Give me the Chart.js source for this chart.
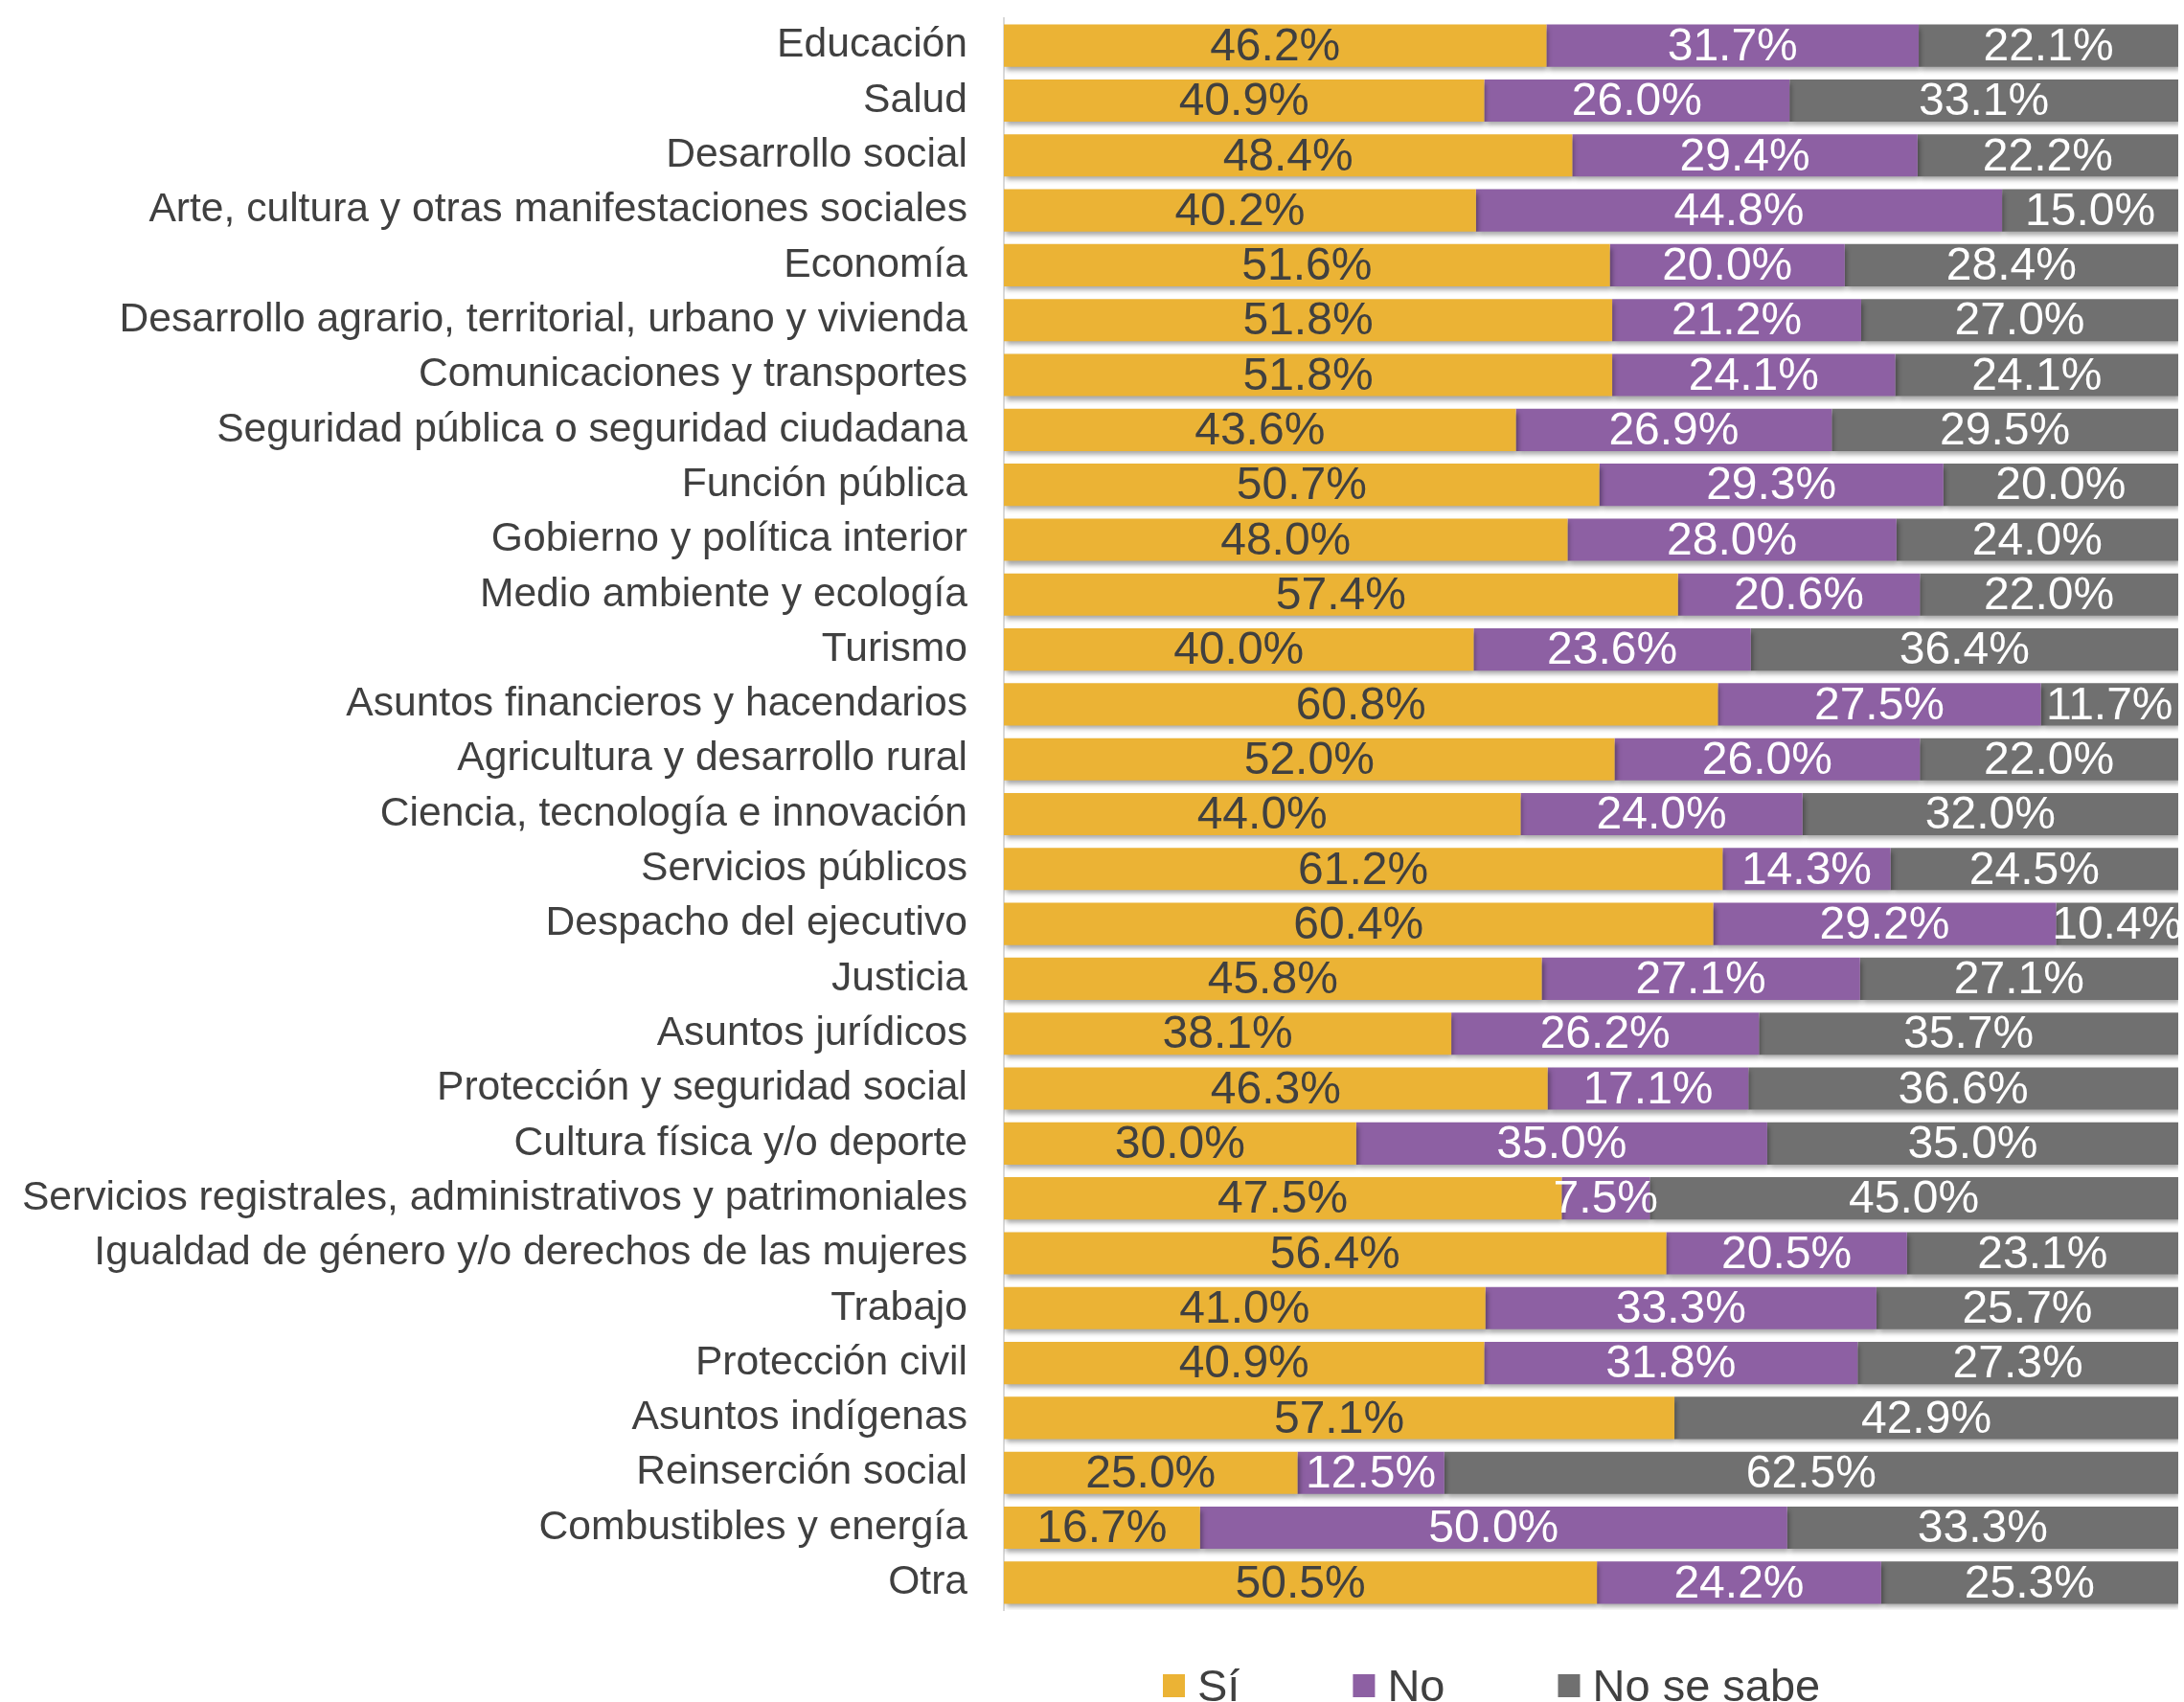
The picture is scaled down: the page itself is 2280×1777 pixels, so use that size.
<!DOCTYPE html>
<html>
<head>
<meta charset="utf-8">
<script src="https://cdn.jsdelivr.net/npm/chart.js@4.4.1/dist/chart.umd.min.js"></script>
<style>
  html, body { margin: 0; padding: 0; background: #ffffff; }
  #wrap { width: 2280px; height: 1777px; position: relative; }
</style>
</head>
<body>
<div id="wrap"><canvas id="temasChart"></canvas></div>
<script>
const categorias = [
    'Educación',
    'Salud',
    'Desarrollo social',
    'Arte, cultura y otras manifestaciones sociales',
    'Economía',
    'Desarrollo agrario, territorial, urbano y vivienda',
    'Comunicaciones y transportes',
    'Seguridad pública o seguridad ciudadana',
    'Función pública',
    'Gobierno y política interior',
    'Medio ambiente y ecología',
    'Turismo',
    'Asuntos financieros y hacendarios',
    'Agricultura y desarrollo rural',
    'Ciencia, tecnología e innovación',
    'Servicios públicos',
    'Despacho del ejecutivo',
    'Justicia',
    'Asuntos jurídicos',
    'Protección y seguridad social',
    'Cultura física y/o deporte',
    'Servicios registrales, administrativos y patrimoniales',
    'Igualdad de género y/o derechos de las mujeres',
    'Trabajo',
    'Protección civil',
    'Asuntos indígenas',
    'Reinserción social',
    'Combustibles y energía',
    'Otra'
];

const valoresSi = [46.2, 40.9, 48.4, 40.2, 51.6, 51.8, 51.8, 43.6, 50.7, 48.0, 57.4, 40.0, 60.8, 52.0, 44.0, 61.2, 60.4, 45.8, 38.1, 46.3, 30.0, 47.5, 56.4, 41.0, 40.9, 57.1, 25.0, 16.7, 50.5];
const valoresNo = [31.7, 26.0, 29.4, 44.8, 20.0, 21.2, 24.1, 26.9, 29.3, 28.0, 20.6, 23.6, 27.5, 26.0, 24.0, 14.3, 29.2, 27.1, 26.2, 17.1, 35.0, 7.5, 20.5, 33.3, 31.8, 0, 12.5, 50.0, 24.2];
const valoresNoSabe = [22.1, 33.1, 22.2, 15.0, 28.4, 27.0, 24.1, 29.5, 20.0, 24.0, 22.0, 36.4, 11.7, 22.0, 32.0, 24.5, 10.4, 27.1, 35.7, 36.6, 35.0, 45.0, 23.1, 25.7, 27.3, 42.9, 62.5, 33.3, 25.3];

const etiquetasSerie = ['Sí', 'No', 'No se sabe'];
const coloresSerie = ['#EBB335', '#8D60A3', '#707070'];
const coloresTexto = ['#404040', '#ffffff', '#ffffff'];

const FUENTE = "'Liberation Sans', Arial, sans-serif";

// sombra suave debajo de las barras
const sombraBarras = {
    id: 'sombraBarras',
    beforeDatasetsDraw(chart) {
        const ctx = chart.ctx;
        ctx.save();
        ctx.shadowColor = 'rgba(0, 0, 0, 0.35)';
        ctx.shadowBlur = 5;
        ctx.shadowOffsetX = 2;
        ctx.shadowOffsetY = 4;
    },
    afterDatasetsDraw(chart) {
        chart.ctx.restore();
    }
};

// porcentajes centrados dentro de cada segmento
const etiquetasDatos = {
    id: 'etiquetasDatos',
    afterDatasetsDraw(chart) {
        const ctx = chart.ctx;
        ctx.save();
        ctx.font = '48px ' + FUENTE;
        ctx.textAlign = 'center';
        ctx.textBaseline = 'middle';
        chart.data.datasets.forEach((ds, di) => {
            const meta = chart.getDatasetMeta(di);
            ctx.fillStyle = coloresTexto[di];
            meta.data.forEach((bar, i) => {
                const v = ds.data[i];
                if (!v) return;
                const cx = (bar.x + bar.base) / 2;
                ctx.fillText(v.toFixed(1) + '%', cx, bar.y + 2);
            });
        });
        ctx.restore();
    }
};

// leyenda inferior dibujada a mano (espaciado ancho como en el original)
const leyendaInferior = {
    id: 'leyendaInferior',
    afterDraw(chart) {
        const ctx = chart.ctx;
        const area = chart.chartArea;
        ctx.save();
        ctx.font = '47px ' + FUENTE;
        ctx.textBaseline = 'alphabetic';
        ctx.textAlign = 'left';
        let x = area.left + 166;
        const cajaTop = area.bottom + 67;
        const base = area.bottom + 95;
        etiquetasSerie.forEach((txt, i) => {
            ctx.fillStyle = coloresSerie[i];
            ctx.fillRect(x, cajaTop, 23, 24);
            ctx.fillStyle = '#404040';
            ctx.fillText(txt, x + 36, base);
            x += 36 + ctx.measureText(txt).width + 118;
        });
        ctx.restore();
    }
};

const ctx = document.getElementById('temasChart');

new Chart(ctx, {
    type: 'bar',
    data: {
        labels: categorias,
        datasets: [valoresSi, valoresNo, valoresNoSabe].map((serie, i) => ({
            label: etiquetasSerie[i],
            data: serie,
            backgroundColor: coloresSerie[i],
            borderWidth: 0,
            barPercentage: 0.77,
            categoryPercentage: 1.0
        }))
    },
    options: {
        indexAxis: 'y',
        responsive: true,
        maintainAspectRatio: false,
        animation: false,
        layout: { padding: { top: 19, bottom: 96, right: 6, left: 0 } },
        scales: {
            x: {
                stacked: true,
                display: false,
                min: 0,
                max: 100
            },
            y: {
                stacked: true,
                grid: { display: false, drawTicks: true, tickLength: 38 },
                border: { display: true, color: '#d9d9d9', width: 2 },
                ticks: {
                    autoSkip: false,
                    padding: 0,
                    color: '#404040',
                    font: { family: FUENTE, size: 42.6 }
                },
                afterFit: (scale) => {
                    scale.width = 1048;
                    scale.paddingTop = 0;
                    scale.paddingBottom = 0;
                }
            }
        },
        plugins: {
            legend: { display: false },
            tooltip: { enabled: false }
        }
    },
    plugins: [sombraBarras, etiquetasDatos, leyendaInferior]
});
</script>
</body>
</html>
